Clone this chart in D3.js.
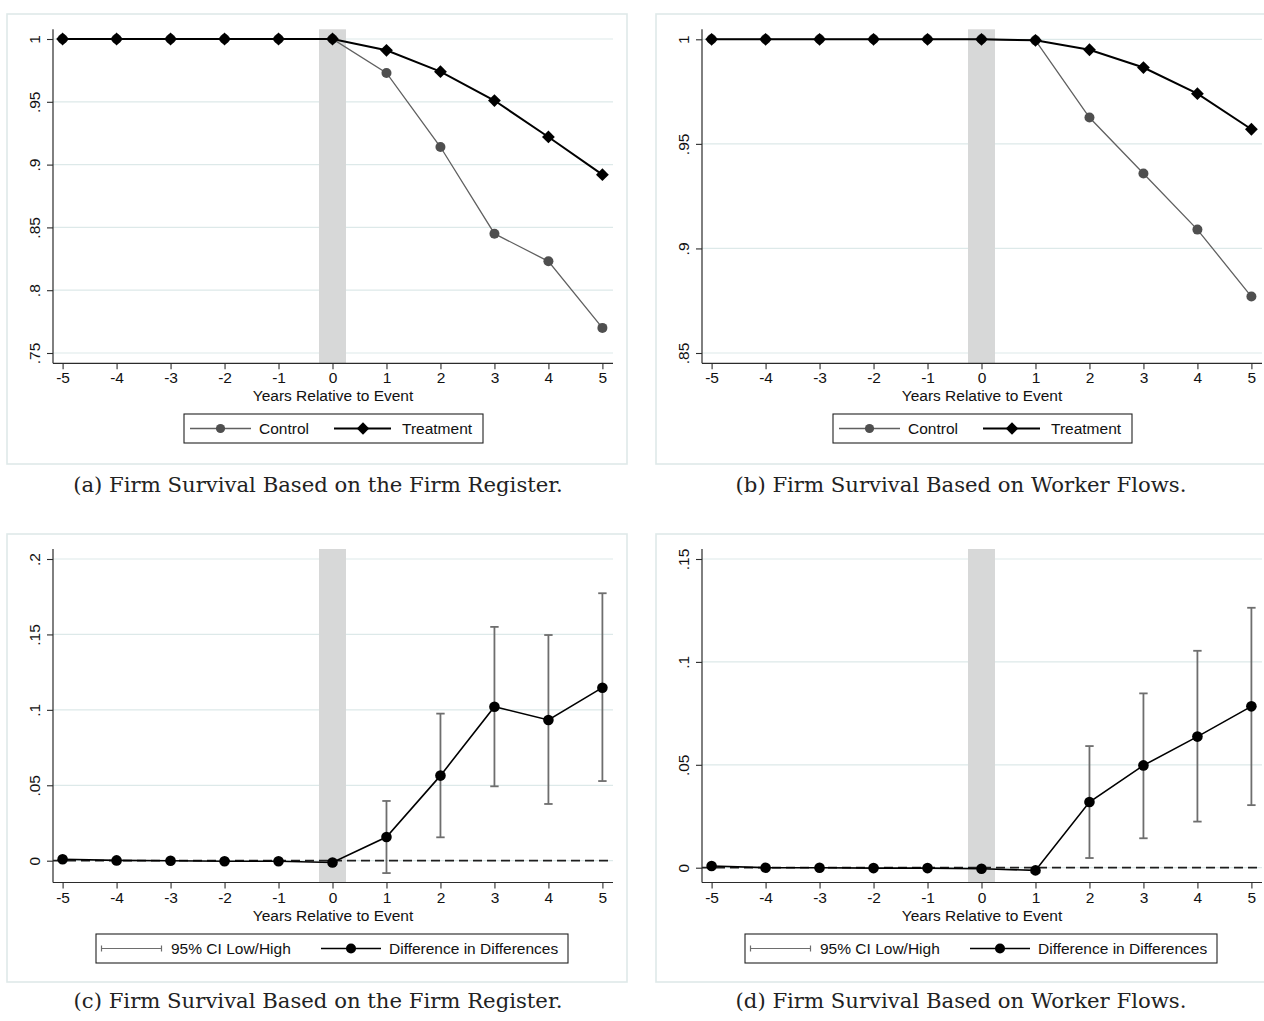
<!DOCTYPE html>
<html>
<head>
<meta charset="utf-8">
<script src="https://cdn.jsdelivr.net/npm/d3@7"></script>
<style>
  html, body { margin: 0; padding: 0; background: #fff; }
  svg { display: block; }
</style>
</head>
<body>
<svg id="chart" width="1264" height="1021"></svg>
<script>
// ---------------- DATA ----------------
const years = [-5, -4, -3, -2, -1, 0, 1, 2, 3, 4, 5];
const xTickLabels = ["-5", "-4", "-3", "-2", "-1", "0", "1", "2", "3", "4", "5"];
const xAxisTitle = "Years Relative to Event";

// Panel (a): firm register
const controlA   = [1, 1, 1, 1, 1, 1, 0.973, 0.914, 0.845, 0.823, 0.770];
const treatmentA = [1, 1, 1, 1, 1, 1, 0.991, 0.974, 0.951, 0.922, 0.892];
const yTicksA = [0.75, 0.8, 0.85, 0.9, 0.95, 1];
const yTickLabelsA = [".75", ".8", ".85", ".9", ".95", "1"];

// Panel (b): worker flows
const controlB   = [1, 1, 1, 1, 1, 1, 0.9995, 0.9626, 0.9358, 0.909, 0.877];
const treatmentB = [1, 1, 1, 1, 1, 1, 0.9995, 0.995, 0.9865, 0.974, 0.957];
const yTicksB = [0.85, 0.9, 0.95, 1];
const yTickLabelsB = [".85", ".9", ".95", "1"];

// Panel (c): diff-in-diff, firm register
const didC    = [0.001, 0.0002, 0, -0.0004, -0.0004, -0.0012, 0.0157, 0.0564, 0.1021, 0.0933, 0.1147];
const ciLowC  = [null, null, null, null, null, null, -0.0082, 0.0155, 0.0493, 0.0376, 0.0528];
const ciHighC = [null, null, null, null, null, null, 0.0396, 0.0975, 0.155, 0.1496, 0.1773];
const yTicksC = [0, 0.05, 0.1, 0.15, 0.2];
const yTickLabelsC = ["0", ".05", ".1", ".15", ".2"];

// Panel (d): diff-in-diff, worker flows
const didD    = [0.0008, 0, 0, -0.0002, -0.0002, -0.0005, -0.0013, 0.0319, 0.0497, 0.0637, 0.0784];
const ciLowD  = [null, null, null, null, null, null, null, 0.0047, 0.0143, 0.0224, 0.0304];
const ciHighD = [null, null, null, null, null, null, null, 0.0591, 0.0847, 0.1054, 0.1263];
const yTicksD = [0, 0.05, 0.1, 0.15];
const yTickLabelsD = ["0", ".05", ".1", ".15"];

const legendTop = ["Control", "Treatment"];
const legendBottom = ["95% CI Low/High", "Difference in Differences"];
const captions = [
  "(a) Firm Survival Based on the Firm Register.",
  "(b) Firm Survival Based on Worker Flows.",
  "(c) Firm Survival Based on the Firm Register.",
  "(d) Firm Survival Based on Worker Flows."
];

// ---------------- STYLE ----------------
const FONT = "'Liberation Sans', Arial, Helvetica, sans-serif";
const FS = 15.5;
const gridColor = "#dde9e9";
const frameColor = "#dfe9e9";
const bandColor = "#d7d8d8";
const axisColor = "#2b2b2b";
const controlLine = "#606060";
const controlFill = "#4f4f4f";
const ciColor = "#6e6e6e";

const svg = d3.select("#chart");

function drawPanel(p) {
  const g = svg.append("g");
  const x0 = p.x0, PW = 560;
  const x = d3.scaleLinear().domain([-5, 5]).range([x0 + 9.6, x0 + 549.4]);
  const y = d3.scaleLinear().domain(p.yDomain).range(p.yRange);

  // outer frame
  g.append("rect")
    .attr("x", x0 - 46).attr("y", p.frameTop)
    .attr("width", 620).attr("height", p.frameBottom - p.frameTop)
    .attr("fill", "#fff").attr("stroke", frameColor).attr("stroke-width", 1.6);

  // gridlines
  g.selectAll(".grid").data(p.yTicks).enter().append("line")
    .attr("x1", x0).attr("x2", x0 + PW)
    .attr("y1", d => y(d)).attr("y2", d => y(d))
    .attr("stroke", gridColor).attr("stroke-width", 1.2);

  // shaded event band
  g.append("rect")
    .attr("x", x(-0.25)).attr("y", p.axisTop)
    .attr("width", x(0.25) - x(-0.25)).attr("height", p.axisBottom - p.axisTop)
    .attr("fill", bandColor);

  // zero dashed line
  if (p.zeroLine) {
    g.append("line")
      .attr("x1", x0).attr("x2", x0 + PW)
      .attr("y1", y(0)).attr("y2", y(0))
      .attr("stroke", "#1e1e1e").attr("stroke-width", 1.7)
      .attr("stroke-dasharray", "9,5");
  }

  // axes
  const yAxis = d3.axisLeft(y).tickValues(p.yTicks).tickSize(6)
    .tickFormat((d, i) => p.yTickLabels[i]);
  const ya = g.append("g").attr("transform", `translate(${x0},0)`).call(yAxis);
  ya.select(".domain").attr("d", `M-0,${p.axisTop}V${p.axisBottom}`)
    .attr("stroke", axisColor).attr("stroke-width", 1.2);
  ya.selectAll(".tick line").attr("stroke", axisColor).attr("stroke-width", 1.1);
  ya.selectAll(".tick text")
    .attr("x", null).attr("dy", null)
    .attr("transform", "translate(-19,0) rotate(-90)")
    .attr("text-anchor", "middle").attr("dominant-baseline", "central")
    .attr("font-family", FONT).attr("font-size", FS).attr("fill", "#111");

  const xAxis = d3.axisBottom(x).tickValues(years).tickSize(6)
    .tickFormat((d, i) => xTickLabels[i]);
  const xa = g.append("g").attr("transform", `translate(0,${p.axisBottom})`).call(xAxis);
  xa.select(".domain").attr("d", `M${x0},0H${x0 + PW}`)
    .attr("stroke", axisColor).attr("stroke-width", 1.2);
  xa.selectAll(".tick line").attr("stroke", axisColor).attr("stroke-width", 1.1);
  xa.selectAll(".tick text").attr("y", 9).attr("dy", "0.71em")
    .attr("font-family", FONT).attr("font-size", FS).attr("fill", "#111");
  ya.attr("font-family", FONT); xa.attr("font-family", FONT);

  g.append("text")
    .attr("x", x0 + 280).attr("y", p.axisBottom + 38)
    .attr("text-anchor", "middle")
    .attr("font-family", FONT).attr("font-size", FS).attr("fill", "#111")
    .text(xAxisTitle);

  const line = d3.line().defined(d => d[1] != null).x(d => x(d[0])).y(d => y(d[1]));
  const diamond = s => `M0,${-s}L${s},0L0,${s}L${-s},0Z`;

  if (p.type === "levels") {
    const cData = years.map((yr, i) => [yr, p.control[i]]);
    const tData = years.map((yr, i) => [yr, p.treatment[i]]);
    g.append("path").datum(cData).attr("d", line)
      .attr("fill", "none").attr("stroke", controlLine).attr("stroke-width", 1.3);
    g.append("path").datum(tData).attr("d", line)
      .attr("fill", "none").attr("stroke", "#000").attr("stroke-width", 2);
    g.selectAll(".cm").data(cData).enter().append("circle")
      .attr("cx", d => x(d[0])).attr("cy", d => y(d[1])).attr("r", 5)
      .attr("fill", controlFill);
    g.selectAll(".tm").data(tData).enter().append("path")
      .attr("transform", d => `translate(${x(d[0])},${y(d[1])})`)
      .attr("d", diamond(6.4)).attr("fill", "#000");

    // legend
    const ly = 428.5;
    const lg = g.append("g");
    lg.append("rect").attr("x", x0 + 131).attr("y", 414)
      .attr("width", 299).attr("height", 29)
      .attr("fill", "#fff").attr("stroke", "#222").attr("stroke-width", 1.1);
    lg.append("line").attr("x1", x0 + 137).attr("x2", x0 + 198).attr("y1", ly).attr("y2", ly)
      .attr("stroke", controlLine).attr("stroke-width", 1.3);
    lg.append("circle").attr("cx", x0 + 167.5).attr("cy", ly).attr("r", 4.6).attr("fill", controlFill);
    lg.append("text").attr("x", x0 + 206).attr("y", ly).attr("dy", "0.35em")
      .attr("font-family", FONT).attr("font-size", FS).attr("fill", "#111").text(legendTop[0]);
    lg.append("line").attr("x1", x0 + 281).attr("x2", x0 + 338).attr("y1", ly).attr("y2", ly)
      .attr("stroke", "#000").attr("stroke-width", 2);
    lg.append("path").attr("transform", `translate(${x0 + 310},${ly})`)
      .attr("d", diamond(6.2)).attr("fill", "#000");
    lg.append("text").attr("x", x0 + 349).attr("y", ly).attr("dy", "0.35em")
      .attr("font-family", FONT).attr("font-size", FS).attr("fill", "#111").text(legendTop[1]);
  } else {
    const dData = years.map((yr, i) => [yr, p.did[i]]);
    const ciData = years.map((yr, i) => ({ yr, lo: p.ciLow[i], hi: p.ciHigh[i] }))
      .filter(d => d.lo != null && d.hi != null);
    // CI bars
    const cg = g.append("g").attr("stroke", ciColor).attr("stroke-width", 1.8);
    cg.selectAll(".ci").data(ciData).enter().append("line")
      .attr("x1", d => x(d.yr)).attr("x2", d => x(d.yr))
      .attr("y1", d => y(d.lo)).attr("y2", d => y(d.hi));
    cg.selectAll(".cap-h").data(ciData).enter().append("line")
      .attr("x1", d => x(d.yr) - 4.2).attr("x2", d => x(d.yr) + 4.2)
      .attr("y1", d => y(d.hi)).attr("y2", d => y(d.hi));
    cg.selectAll(".cap-l").data(ciData).enter().append("line")
      .attr("x1", d => x(d.yr) - 4.2).attr("x2", d => x(d.yr) + 4.2)
      .attr("y1", d => y(d.lo)).attr("y2", d => y(d.lo));
    g.append("path").datum(dData).attr("d", line)
      .attr("fill", "none").attr("stroke", "#000").attr("stroke-width", 1.6);
    g.selectAll(".dm").data(dData).enter().append("circle")
      .attr("cx", d => x(d[0])).attr("cy", d => y(d[1])).attr("r", 5.3)
      .attr("fill", "#000");

    // legend
    const ly = 948.5;
    const lg = g.append("g");
    lg.append("rect").attr("x", x0 + 43).attr("y", 934)
      .attr("width", 472).attr("height", 29)
      .attr("fill", "#fff").attr("stroke", "#222").attr("stroke-width", 1.1);
    lg.append("line").attr("x1", x0 + 48).attr("x2", x0 + 109).attr("y1", ly).attr("y2", ly)
      .attr("stroke", ciColor).attr("stroke-width", 1.2);
    [x0 + 48.5, x0 + 108.5].forEach(cx => {
      lg.append("line").attr("x1", cx).attr("x2", cx).attr("y1", ly - 3).attr("y2", ly + 3)
        .attr("stroke", ciColor).attr("stroke-width", 1.2);
    });
    lg.append("text").attr("x", x0 + 118).attr("y", ly).attr("dy", "0.35em")
      .attr("font-family", FONT).attr("font-size", FS).attr("fill", "#111").text(legendBottom[0]);
    lg.append("line").attr("x1", x0 + 268).attr("x2", x0 + 328).attr("y1", ly).attr("y2", ly)
      .attr("stroke", "#000").attr("stroke-width", 1.6);
    lg.append("circle").attr("cx", x0 + 298).attr("cy", ly).attr("r", 5).attr("fill", "#000");
    lg.append("text").attr("x", x0 + 336).attr("y", ly).attr("dy", "0.35em")
      .attr("font-family", FONT).attr("font-size", FS).attr("fill", "#111").text(legendBottom[1]);
  }
}

const LEFT = 53, RIGHT = 702;
drawPanel({ type: "levels", x0: LEFT, frameTop: 14, frameBottom: 464, axisTop: 29.3, axisBottom: 363.3,
  yDomain: [0.75, 1], yRange: [353, 39], yTicks: yTicksA, yTickLabels: yTickLabelsA,
  control: controlA, treatment: treatmentA });
drawPanel({ type: "levels", x0: RIGHT, frameTop: 14, frameBottom: 464, axisTop: 29.3, axisBottom: 363.3,
  yDomain: [0.85, 1], yRange: [353, 39.3], yTicks: yTicksB, yTickLabels: yTickLabelsB,
  control: controlB, treatment: treatmentB });
drawPanel({ type: "did", x0: LEFT, frameTop: 534, frameBottom: 982, axisTop: 549, axisBottom: 882.5,
  yDomain: [0, 0.2], yRange: [860.7, 559], yTicks: yTicksC, yTickLabels: yTickLabelsC, zeroLine: true,
  did: didC, ciLow: ciLowC, ciHigh: ciHighC });
drawPanel({ type: "did", x0: RIGHT, frameTop: 534, frameBottom: 982, axisTop: 549, axisBottom: 882.5,
  yDomain: [0, 0.15], yRange: [867.7, 559], yTicks: yTicksD, yTickLabels: yTickLabelsD, zeroLine: true,
  did: didD, ciLow: ciLowD, ciHigh: ciHighD });

// captions (serif, sized to match reference width)
const capFont = "'DejaVu Serif', 'Liberation Serif', serif";
const probe = svg.append("text").attr("font-family", capFont).attr("font-size", 100).text(captions[0]);
const capSize = 100 * 490 / probe.node().getComputedTextLength();
probe.remove();
const capPos = [[318, 492], [961, 492], [318, 1008], [961, 1008]];
captions.forEach((c, i) => {
  svg.append("text").attr("x", capPos[i][0]).attr("y", capPos[i][1])
    .attr("text-anchor", "middle").attr("font-family", capFont)
    .attr("font-size", capSize).attr("fill", "#222").text(c);
});
</script>
</body>
</html>
